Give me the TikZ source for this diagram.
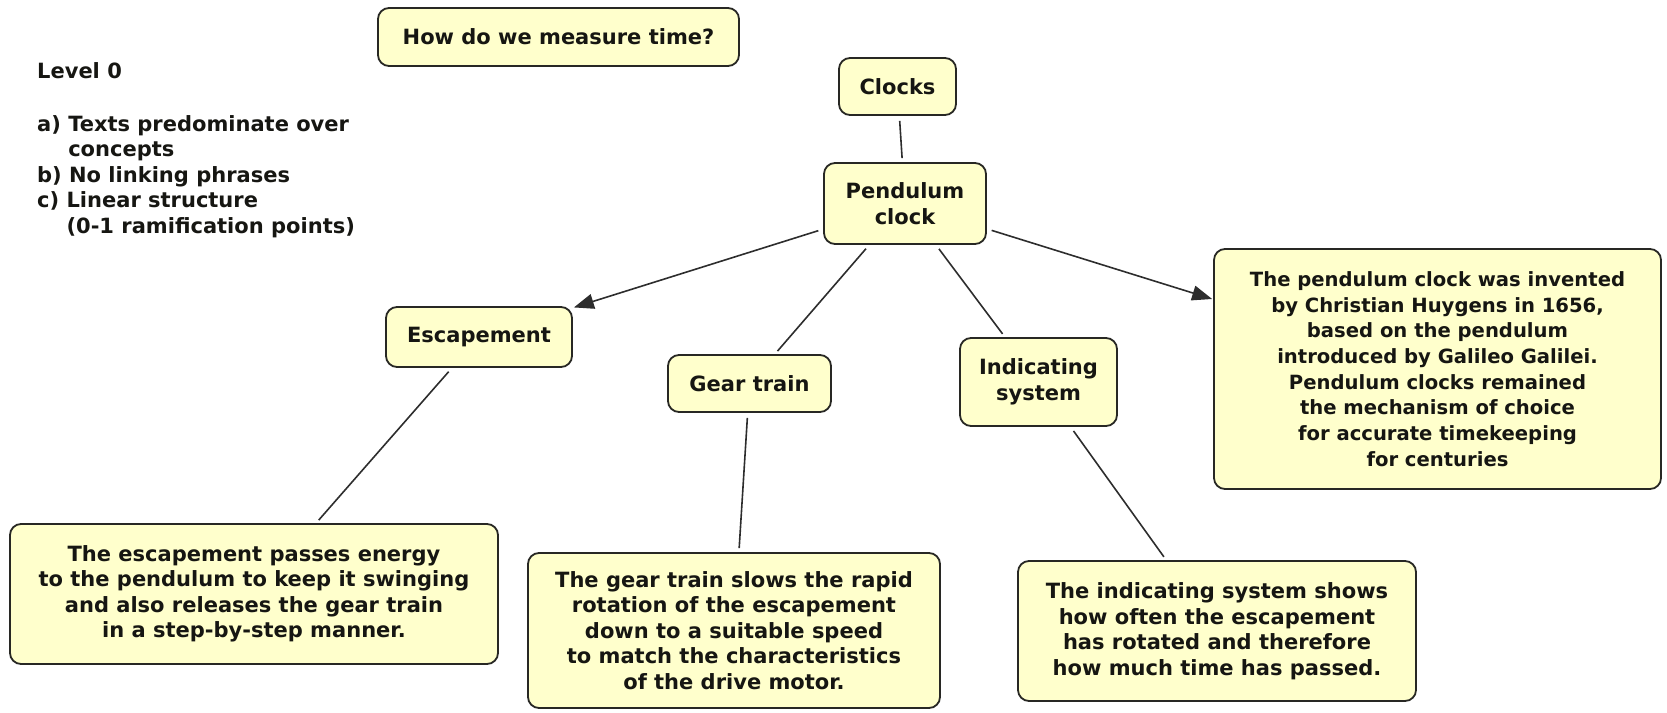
\documentclass[tikz,border=0pt]{standalone}
\usepackage{fontspec}
\setmainfont{DejaVu Sans}
\usetikzlibrary{arrows.meta}

\definecolor{boxfill}{RGB}{255,255,204}
\definecolor{boxline}{RGB}{40,40,36}
\definecolor{linkc}{RGB}{45,45,45}
\definecolor{ink}{RGB}{22,22,18}

\newcommand{\mapfont}{\bfseries\fontsize{21}{25.5}\selectfont}
\newcommand{\notefont}{\bfseries\fontsize{19.6}{25.7}\selectfont}

\tikzset{
  concept/.style={draw=boxline, fill=boxfill, line width=1.8pt,
    rounded corners=11pt, inner sep=0pt, align=center, text=ink,
    font=\mapfont},
  link/.style={draw=linkc, line width=1.6pt, shorten <=5pt, shorten >=4pt},
  arrowlink/.style={link, -{Triangle[length=20pt,width=15pt]}, shorten >=1pt}
}

\begin{document}
\begin{tikzpicture}[x=1pt,y=-1pt]
  \useasboundingbox (0,0) rectangle (1667,712);

  % legend
  \node[anchor=north west, inner sep=0pt, align=left, text=ink, font=\mapfont]
    (legend) at (37,62)
    {Level 0\\[27.5pt]
     a) Texts predominate over\\
     \phantom{a) }concepts\\
     b) No linking phrases\\
     c) Linear structure\\
     \phantom{c) }(0-1 ramification points)};

  % concepts
  \node[concept, minimum width=361pt, minimum height=58pt] (q) at (558.5,37)
    {How do we measure time?};
  \node[concept, minimum width=117pt, minimum height=57pt] (clocks) at (897.5,86.5)
    {Clocks};
  \node[concept, minimum width=162pt, minimum height=81pt] (pend) at (905,203.5)
    {Pendulum\\clock};
  \node[concept, minimum width=186pt, minimum height=60pt] (esc) at (479,337)
    {Escapement};
  \node[concept, minimum width=163pt, minimum height=57pt] (gear) at (749.5,383.5)
    {Gear train};
  \node[concept, minimum width=157pt, minimum height=88pt] (ind) at (1038.5,382)
    {Indicating\\system};
  \node[concept, minimum width=447pt, minimum height=240pt, font=\notefont]
    (hist) at (1437.5,369)
    {The pendulum clock was invented\\
     by Christian Huygens in 1656,\\
     based on the pendulum\\
     introduced by Galileo Galilei.\\
     Pendulum clocks remained\\
     the mechanism of choice\\
     for accurate timekeeping\\
     for centuries};
  \node[concept, minimum width=488pt, minimum height=140pt] (escd) at (254,594)
    {The escapement passes energy\\
     to the pendulum to keep it swinging\\
     and also releases the gear train\\
     in a step-by-step manner.};
  \node[concept, minimum width=412pt, minimum height=155pt] (geard) at (734,630.5)
    {The gear train slows the rapid\\
     rotation of the escapement\\
     down to a suitable speed\\
     to match the characteristics\\
     of the drive motor.};
  \node[concept, minimum width=398pt, minimum height=140pt] (indd) at (1217,631)
    {The indicating system shows\\
     how often the escapement\\
     has rotated and therefore\\
     how much time has passed.};

  % connectors
  \draw[link] (clocks) -- (pend);
  \draw[arrowlink] (pend) -- (esc);
  \draw[link] (pend) -- (gear);
  \draw[link] (pend) -- (ind);
  \draw[arrowlink] (pend) -- (hist);
  \draw[link] (esc) -- (escd);
  \draw[link] (gear) -- (geard);
  \draw[link] (ind) -- (indd);
\end{tikzpicture}
\end{document}
